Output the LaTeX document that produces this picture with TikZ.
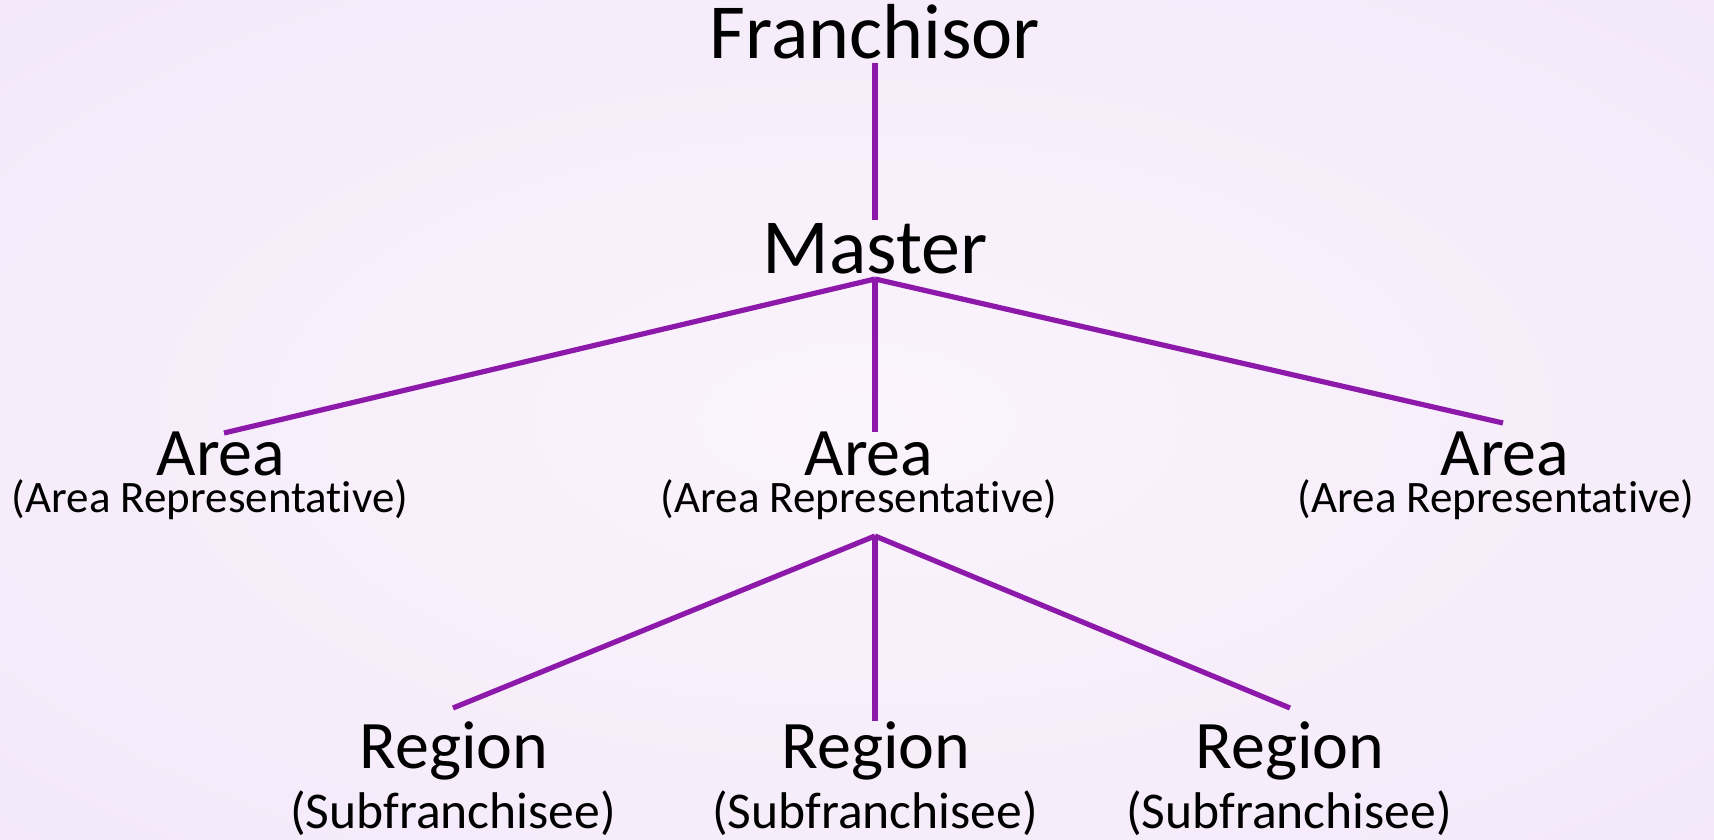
\documentclass[tikz,border=0pt]{standalone}
\usepackage{fontspec}
\setmainfont{Carlito}[Ligatures=NoCommon]
\usepackage{tikz}
\definecolor{linkpurple}{RGB}{140,25,170}
\definecolor{bgin}{RGB}{250,244,252}
\definecolor{bgmid}{RGB}{246,236,250}
\definecolor{bgout}{RGB}{236,219,244}
\pgfdeclareradialshading{bgshade}{\pgfpoint{0bp}{0bp}}{color(0bp)=(bgin); color(25bp)=(bgmid); color(71bp)=(bgout)}
\tikzset{
    every node/.style={inner sep=0pt, anchor=base, text=black}
}
\tikzset{
    big/.style={font=\fontsize{39}{42}\selectfont},
    mid/.style={font=\fontsize{34}{37}\selectfont},
    areasub/.style={font=\fontsize{22.5}{26}\selectfont},
    regsub/.style={font=\fontsize{25.8}{28}\selectfont},
    link/.style={draw=linkpurple, line width=2.6pt}
}

\begin{document}
\begin{tikzpicture}[x=0.5pt,y=-0.5pt]
	\fill[shading=bgshade] (0,0) rectangle (1714,840);
	\useasboundingbox (0,0) rectangle (1714,840);

	\node (franchisor) [big] at (875,59) {Franchisor};
	\node (master) [big] at (875,273) {Master};
	\node (area1) [mid] at (221,475) {Area};
	\node (area2) [mid] at (869,475) {Area};
	\node (area3) [mid] at (1505,475) {Area};
	\node (area1s) [areasub] at (210,512) {(Area Representative)};
	\node (area2s) [areasub] at (859,512) {(Area Representative)};
	\node (area3s) [areasub] at (1496,512) {(Area Representative)};
	\node (reg1) [mid] at (454,768) {Region};
	\node (reg2) [mid] at (876,768) {Region};
	\node (reg3) [mid] at (1290,768) {Region};
	\node (reg1s) [regsub] at (453,828) {(Subfranchisee)};
	\node (reg2s) [regsub] at (875,828) {(Subfranchisee)};
	\node (reg3s) [regsub] at (1289,828) {(Subfranchisee)};

	\coordinate (f-foot) at (875,63);
	\coordinate (m-head) at (875,220);
	\coordinate (m-foot) at (875,279);
	\coordinate (a1-head) at (224,433);
	\coordinate (a2-head) at (875,432);
	\coordinate (a3-head) at (1503,423);
	\coordinate (a2-foot) at (875,536);
	\coordinate (r1-head) at (453,708);
	\coordinate (r2-head) at (875,721);
	\coordinate (r3-head) at (1290,708);

	\draw [link] (f-foot) -- (m-head);
	\draw [link] (m-foot) -- (a1-head); \draw [link] (m-foot) -- (a2-head);
	\draw [link] (m-foot) -- (a3-head);
	\draw [link] (a2-foot) -- (r1-head); \draw [link] (a2-foot) -- (r2-head);
	\draw [link] (a2-foot) -- (r3-head);
\end{tikzpicture}
\end{document}
